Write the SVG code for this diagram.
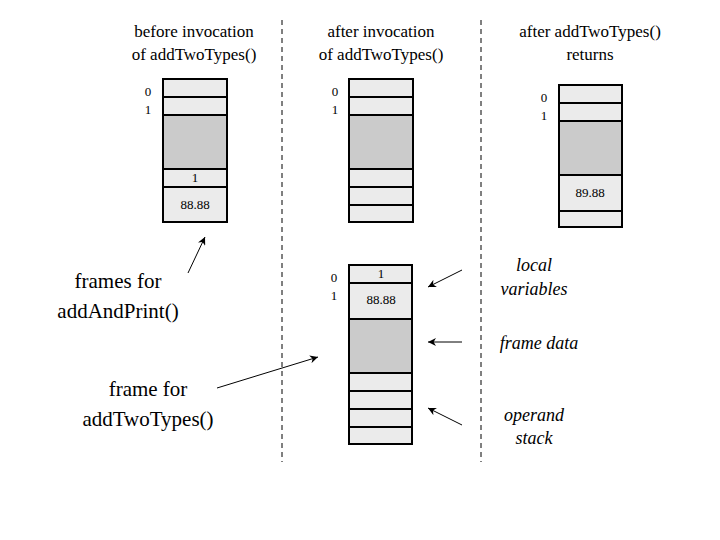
<svg xmlns="http://www.w3.org/2000/svg" width="720" height="540" viewBox="0 0 720 540" font-family="Liberation Serif, Times New Roman, DejaVu Serif, serif">
<style>
.c{fill:#ebebeb;stroke:#000;stroke-width:2}
.g{fill:#cbcbcb;stroke:#000;stroke-width:2}
.t{font-size:17px;fill:#000;text-anchor:middle}
.b{font-size:21px;fill:#000;text-anchor:middle}
.i{font-size:18px;font-style:italic;fill:#000;text-anchor:middle}
.s{font-size:13px;fill:#000;text-anchor:middle}
.d{stroke:#000;stroke-width:1;stroke-dasharray:5,4}
.a{stroke:#000;stroke-width:1;fill:none;marker-end:url(#ah)}
</style>
<defs><marker id="ah" viewBox="0 0 10 10" refX="10" refY="5" markerWidth="10" markerHeight="8" orient="auto" markerUnits="userSpaceOnUse"><path d="M0,0 L10,5 L0,10 L3,5 Z" fill="#000"/></marker></defs>
<rect width="720" height="540" fill="#fff"/>
<g id="headers" font-family="Liberation Serif, serif">
<text class="t" x="194" y="37">before invocation</text><text class="t" x="194" y="60">of addTwoTypes()</text>
<text class="t" x="381" y="37">after invocation</text><text class="t" x="381" y="60">of addTwoTypes()</text>
<text class="t" x="590" y="37">after addTwoTypes()</text><text class="t" x="590" y="60">returns</text>
</g>
<g id="dividers"><line class="d" x1="282" y1="20" x2="282" y2="462"/><line class="d" x1="481" y1="20" x2="481" y2="462"/></g>
<g id="stack1" font-family="Liberation Serif, serif">
<rect class="c" x="163" y="79" width="64" height="18"/><rect class="c" x="163" y="97" width="64" height="18"/>
<rect class="g" x="163" y="115" width="64" height="54"/><rect class="c" x="163" y="169" width="64" height="18"/>
<rect class="c" x="163" y="187" width="64" height="35"/>
<text class="s" x="148" y="96">0</text><text class="s" x="148" y="114">1</text>
<text class="s" x="195" y="182">1</text><text class="s" x="195" y="209">88.88</text>
</g>
<g id="stack2" font-family="Liberation Serif, serif">
<rect class="c" x="349" y="79" width="64" height="18"/><rect class="c" x="349" y="97" width="64" height="18"/>
<rect class="g" x="349" y="115" width="64" height="54"/><rect class="c" x="349" y="169" width="64" height="18"/>
<rect class="c" x="349" y="187" width="64" height="18"/><rect class="c" x="349" y="205" width="64" height="17"/>
<text class="s" x="335" y="96">0</text><text class="s" x="335" y="114">1</text>
</g>
<g id="stack3" font-family="Liberation Serif, serif">
<rect class="c" x="559" y="85" width="63" height="18"/><rect class="c" x="559" y="103" width="63" height="18"/>
<rect class="g" x="559" y="121" width="63" height="54"/><rect class="c" x="559" y="175" width="63" height="36"/>
<rect class="c" x="559" y="211" width="63" height="16"/>
<text class="s" x="544" y="102">0</text><text class="s" x="544" y="120">1</text>
<text class="s" x="590" y="197">89.88</text>
</g>
<g id="stack4" font-family="Liberation Serif, serif">
<rect class="c" x="349" y="265" width="63" height="18"/><rect class="c" x="349" y="283" width="63" height="36"/>
<rect class="g" x="349" y="319" width="63" height="54"/><rect class="c" x="349" y="373" width="63" height="18"/>
<rect class="c" x="349" y="391" width="63" height="18"/><rect class="c" x="349" y="409" width="63" height="18"/>
<rect class="c" x="349" y="427" width="63" height="17"/>
<text class="s" x="334" y="282">0</text><text class="s" x="334" y="300">1</text>
<text class="s" x="381" y="278">1</text><text class="s" x="381" y="304">88.88</text>
</g>
<g id="labels" font-family="Liberation Serif, serif">
<text class="b" x="118" y="288">frames for</text><text class="b" x="118" y="318">addAndPrint()</text>
<text class="b" x="148" y="396">frame for</text><text class="b" x="148" y="426">addTwoTypes()</text>
<text class="i" x="534" y="271">local</text><text class="i" x="534" y="295">variables</text>
<text class="i" x="539" y="349">frame data</text>
<text class="i" x="534" y="421">operand</text><text class="i" x="534" y="444">stack</text>
</g>
<g id="connectors">
<line class="a" x1="188" y1="273" x2="205" y2="237"/>
<line class="a" x1="217" y1="388" x2="318" y2="357"/>
<line class="a" x1="462" y1="270" x2="428" y2="287"/>
<line class="a" x1="462" y1="342" x2="428" y2="342"/>
<line class="a" x1="462" y1="425" x2="428" y2="408"/>
</g>
</svg>
